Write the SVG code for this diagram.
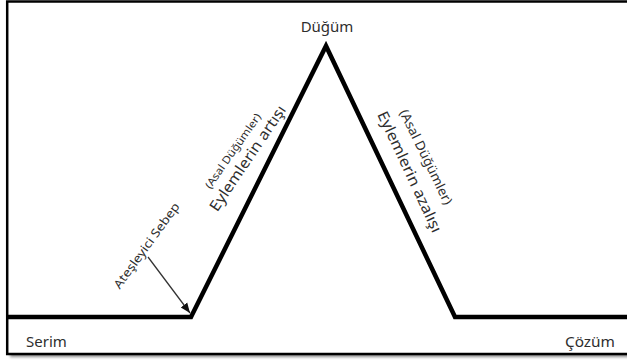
<svg xmlns="http://www.w3.org/2000/svg" width="627" height="361" viewBox="0 0 627 361">
<defs>
<style>
.lbl{font-family:"Noto Sans","Open Sans","Liberation Sans",sans-serif;fill:#2e2e2e}
.big{font-size:15px}
.mid{font-size:13px}
.sm{font-size:10.5px}
.plot{fill:none;stroke:#000;stroke-width:4.5;stroke-linejoin:miter;stroke-miterlimit:10}
</style>
<filter id="sh" x="-5%" y="-5%" width="110%" height="115%">
<feGaussianBlur stdDeviation="1.5"/>
</filter>
<marker id="ah" viewBox="0 0 10 10" refX="10" refY="5" markerWidth="10" markerHeight="10" markerUnits="userSpaceOnUse" orient="auto">
<path d="M0,1 L10,5 L0,9 Z" fill="#111"/>
</marker>
</defs>
<rect width="627" height="361" fill="#fff"/>
<rect x="10" y="5" width="640" height="352" fill="#8a8a8a" filter="url(#sh)"/>
<rect x="7.2" y="1.5" width="640" height="352.5" fill="#fff" stroke="#000" stroke-width="2.5"/>
<g id="connectors">
<polyline class="plot" points="7,317 191,317 326,46 455,317 630,317"/>
<line x1="148" y1="257" x2="190" y2="313" stroke="#333" stroke-width="1.3" marker-end="url(#ah)"/>
</g>
<g id="dugum"><text class="lbl big" x="327" y="32" text-anchor="middle">Düğüm</text></g>
<g id="serim"><text class="lbl big" x="26" y="347">Serim</text></g>
<g id="cozum"><text class="lbl big" x="590" y="347" text-anchor="middle" textLength="50" lengthAdjust="spacingAndGlyphs">Çözüm</text></g>
<g id="atesleyici"><text class="lbl sm" font-size="12" transform="translate(150,248) rotate(-54)" text-anchor="middle" textLength="103" lengthAdjust="spacingAndGlyphs" style="font-size:12px">Ateşleyici Sebep</text></g>
<g id="artis">
<text class="lbl sm" transform="translate(236,153) rotate(-55)" text-anchor="middle" textLength="89" lengthAdjust="spacingAndGlyphs">(Asal Düğümler)</text>
<text class="lbl big" transform="translate(252,161) rotate(-56)" text-anchor="middle" textLength="124" lengthAdjust="spacingAndGlyphs">Eylemlerin artışı</text>
</g>
<g id="azalis">
<text class="lbl mid" transform="translate(422,159) rotate(64)" text-anchor="middle" textLength="104" lengthAdjust="spacingAndGlyphs">(Asal Düğümler)</text>
<text class="lbl big" transform="translate(405,174) rotate(65)" text-anchor="middle" textLength="132" lengthAdjust="spacingAndGlyphs">Eylemlerin azalışı</text>
</g>
</svg>
